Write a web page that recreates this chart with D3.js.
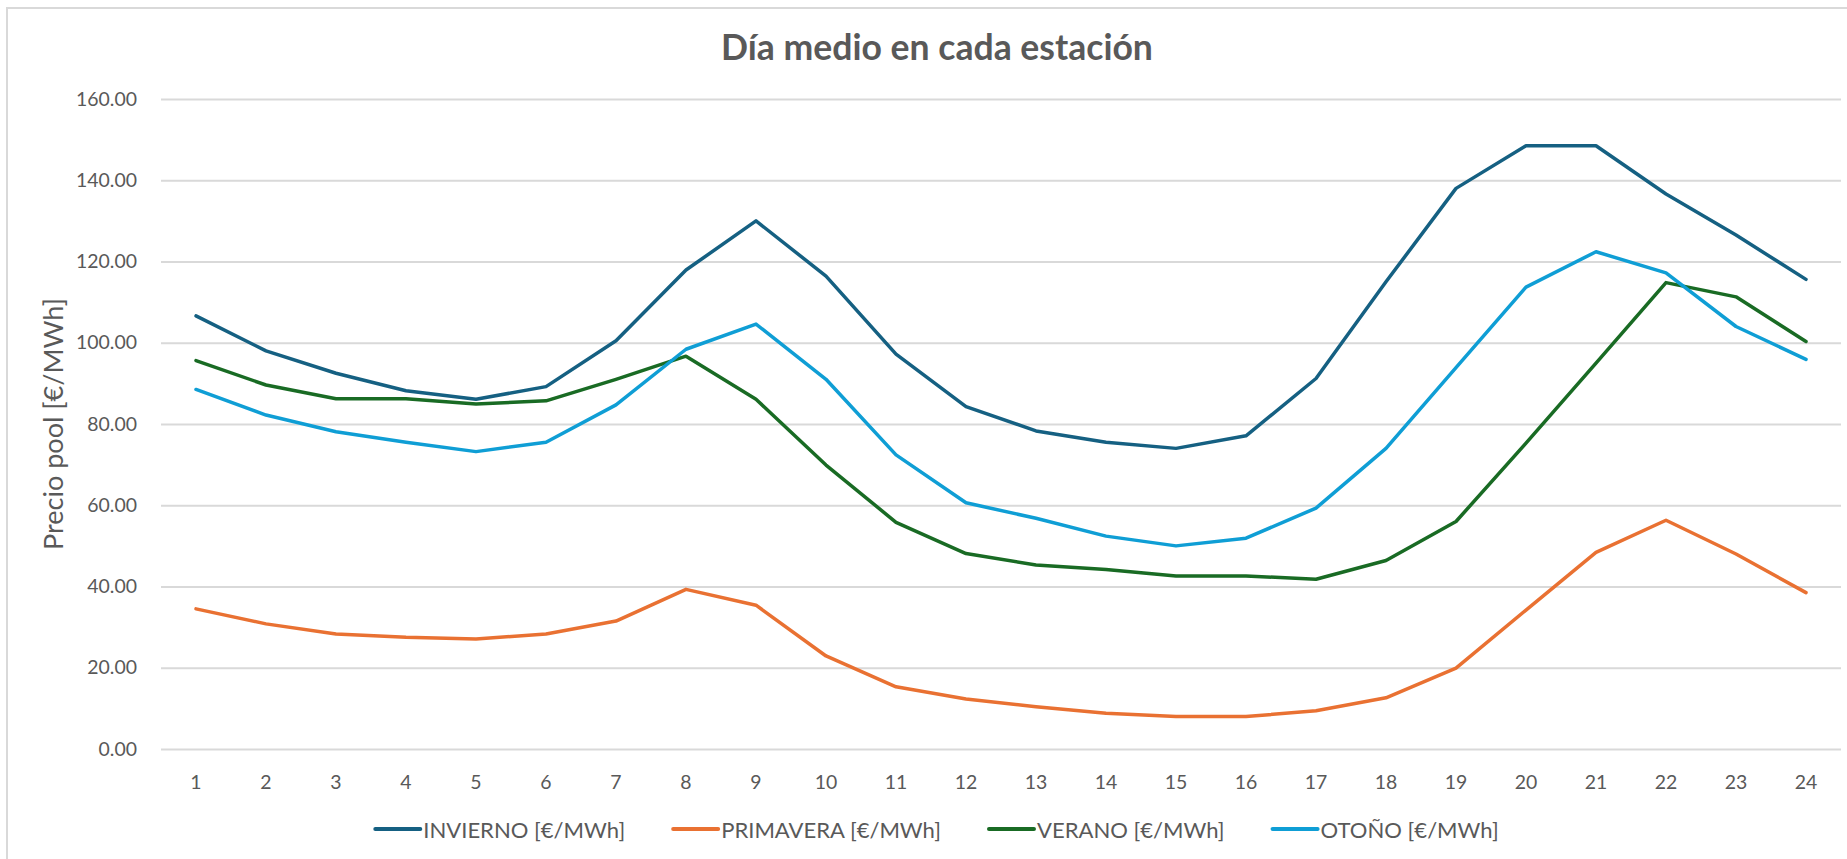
<!DOCTYPE html>
<html>
<head>
<meta charset="utf-8">
<script src="https://cdn.jsdelivr.net/npm/d3@7"></script>
<style>
  body { margin: 0; background: #fff; }
  svg { display: block; }
</style>
</head>
<body>
<div id="chart"></div>
<script>
// datos (precio medio por hora, €/MWh)
const horas = ["1","2","3","4","5","6","7","8","9","10","11","12","13","14","15","16","17","18","19","20","21","22","23","24"];
const invierno = [106.6, 98.0, 92.5, 88.2, 86.1, 89.2, 100.5, 117.9, 130.0, 116.4, 97.2, 84.3, 78.3, 75.5, 74.0, 77.1, 91.2, 115.0, 138.0, 148.5, 148.5, 136.6, 126.5, 115.6];
const primavera = [34.5, 30.8, 28.3, 27.5, 27.1, 28.3, 31.5, 39.3, 35.4, 22.9, 15.3, 12.3, 10.4, 8.8, 8.0, 8.0, 9.4, 12.6, 19.9, 34.2, 48.4, 56.3, 48.0, 38.5];
const verano = [95.6, 89.6, 86.2, 86.2, 84.9, 85.7, 91.0, 96.7, 86.1, 69.9, 55.8, 48.1, 45.3, 44.2, 42.6, 42.6, 41.8, 46.4, 56.0, 75.3, 95.0, 114.8, 111.3, 100.3];
const otono = [88.5, 82.2, 78.1, 75.5, 73.2, 75.5, 84.7, 98.4, 104.6, 91.0, 72.4, 60.6, 56.8, 52.4, 50.0, 51.9, 59.3, 74.0, 93.9, 113.7, 122.4, 117.2, 104.0, 95.9];
const yTicks = [0, 20, 40, 60, 80, 100, 120, 140, 160];

const titulo = "Día medio en cada estación";
const ejeY = "Precio pool [€/MWh]";

const series = [
  { name: "INVIERNO [€/MWh]", values: invierno, color: "#156082" },
  { name: "PRIMAVERA [€/MWh]", values: primavera, color: "#E97132" },
  { name: "VERANO [€/MWh]", values: verano, color: "#196B24" },
  { name: "OTOÑO [€/MWh]", values: otono, color: "#0F9ED5" }
];

const W = 1847, H = 859;
const plot = { left: 161, right: 1841, top: 99, bottom: 749 };
const centerX = 937;
const txt = "#595959";
const font = "Lato, 'Open Sans', sans-serif";

// ajusta el tamaño de letra para que el texto ocupe un ancho dado
function fit(sel, w) {
  const cur = sel.node().getComputedTextLength();
  const fs = parseFloat(sel.attr("font-size"));
  sel.attr("font-size", fs * w / cur);
  return fs * w / cur;
}

const svg = d3.select("#chart").append("svg")
  .attr("width", W)
  .attr("height", H);

svg.append("rect")
  .attr("x", 7).attr("y", 8)
  .attr("width", W + 20).attr("height", H + 20)
  .attr("fill", "#fff")
  .attr("stroke", "#D9D9D9")
  .attr("stroke-width", 2);

const x = d3.scaleBand()
  .domain(horas)
  .range([plot.left, plot.right]);

const y = d3.scaleLinear()
  .domain([0, 160])
  .range([plot.bottom, plot.top]);

// rejilla + etiquetas eje Y
const gy = svg.append("g")
  .attr("transform", `translate(${plot.left},0)`)
  .call(d3.axisLeft(y)
    .tickValues(yTicks)
    .tickSize(-(plot.right - plot.left))
    .tickPadding(24)
    .tickFormat(d3.format(".2f")));
gy.select(".domain").remove();
gy.selectAll(".tick line")
  .attr("stroke", "#D9D9D9")
  .attr("stroke-width", 2);
gy.selectAll(".tick text")
  .attr("fill", txt)
  .attr("font-family", font)
  .attr("font-size", 18);
// ancho de "160.00" en la referencia ~61px
const yLab = gy.selectAll(".tick text").filter(d => d === 160);
const fsTick = fit(yLab, 61);
gy.selectAll(".tick text").attr("font-size", fsTick);

// eje X
const gx = svg.append("g")
  .attr("transform", `translate(0,${plot.bottom})`)
  .call(d3.axisBottom(x).tickSize(0).tickPadding(26));
gx.select(".domain").remove();
gx.selectAll(".tick text")
  .attr("fill", txt)
  .attr("font-family", font)
  .attr("font-size", fsTick);

// lineas
const line = d3.line()
  .x((d, i) => x(horas[i]) + x.bandwidth() / 2)
  .y(d => y(d));

svg.append("g").selectAll("path")
  .data(series)
  .join("path")
  .attr("d", s => line(s.values))
  .attr("fill", "none")
  .attr("stroke", s => s.color)
  .attr("stroke-width", 3.5)
  .attr("stroke-linejoin", "round")
  .attr("stroke-linecap", "round");

// titulo
const t = svg.append("text")
  .attr("x", centerX)
  .attr("y", 60)
  .attr("text-anchor", "middle")
  .attr("font-family", font)
  .attr("font-weight", "bold")
  .attr("font-size", 32)
  .attr("fill", txt)
  .text(titulo);
fit(t, 432);

// titulo eje Y
const ty = svg.append("text")
  .attr("transform", `translate(52,${(plot.top + plot.bottom) / 2}) rotate(-90)`)
  .attr("text-anchor", "middle")
  .attr("dominant-baseline", "central")
  .attr("font-family", font)
  .attr("font-size", 22)
  .attr("fill", txt)
  .text(ejeY);
fit(ty, 252);

// leyenda
const legY = 829, swW = 45, swGap = 3, itemGap = 48;
const leg = svg.append("g");
const items = leg.selectAll("g")
  .data(series)
  .join("g");
items.append("line")
  .attr("x1", 0).attr("x2", swW)
  .attr("y1", 0).attr("y2", 0)
  .attr("stroke", s => s.color)
  .attr("stroke-width", 4)
  .attr("stroke-linecap", "round");
const lt = items.append("text")
  .attr("x", swW + swGap)
  .attr("dominant-baseline", "central")
  .attr("font-family", font)
  .attr("font-size", 20)
  .attr("fill", txt)
  .text(s => s.name);
const fsLeg = fit(d3.select(lt.nodes()[0]), 202);
lt.attr("font-size", fsLeg);

let widths = lt.nodes().map(n => swW + swGap + n.getComputedTextLength());
let total = d3.sum(widths) + itemGap * (widths.length - 1);
let cx = centerX - total / 2;
items.attr("transform", (s, i) => {
  const tx = cx;
  cx += widths[i] + itemGap;
  return `translate(${tx},${legY})`;
});
</script>
</body>
</html>
